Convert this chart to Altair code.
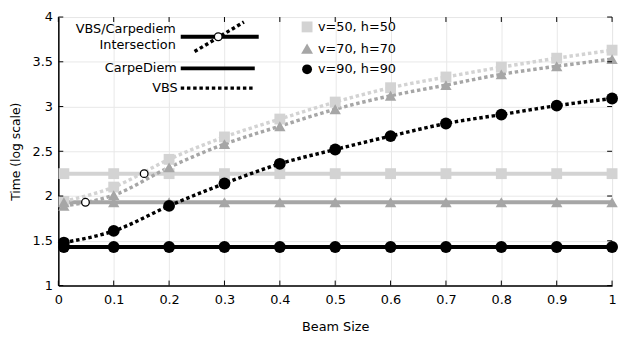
import altair as alt
import pandas as pd

# ---------------- data ----------------
beam = [0.01, 0.1, 0.2, 0.3, 0.4, 0.5, 0.6, 0.7, 0.8, 0.9, 1.0]
series = ["v=50, h=50", "v=70, h=70", "v=90, h=90"]
vbs_50 = [1.94, 2.10, 2.41, 2.66, 2.86, 3.05, 3.21, 3.33, 3.44, 3.54, 3.63]
vbs_70 = [1.89, 2.01, 2.32, 2.58, 2.78, 2.97, 3.12, 3.24, 3.36, 3.45, 3.53]
vbs_90 = [1.48, 1.61, 1.89, 2.14, 2.36, 2.52, 2.67, 2.81, 2.91, 3.01, 3.09]
carpediem = [2.25, 1.93, 1.43]
inter_x = [0.049, 0.155]
inter_y = [1.93, 2.25]
x_ticks = [0, 0.1, 0.2, 0.3, 0.4, 0.5, 0.6, 0.7, 0.8, 0.9, 1.0]
y_ticks = [1, 1.5, 2, 2.5, 3, 3.5, 4]
legend_style = ["VBS/Carpediem", "Intersection", "CarpeDiem", "VBS"]

colors = ["#d3d3d3", "#a6a6a6", "#000000"]
shapes = ["square", "triangle-up", "circle"]
sizes = [121, 144, 100]

W, H = 561, 272
FONT = "DejaVu Sans"

rows_vbs, rows_cd = [], []
for k, (s, vals) in enumerate(zip(series, [vbs_50, vbs_70, vbs_90])):
    for b, v in zip(beam, vals):
        rows_vbs.append({"beam": b, "time": v, "series": s, "k": k})
        rows_cd.append({"beam": b, "time": carpediem[k], "series": s, "k": k})
df_vbs = pd.DataFrame(rows_vbs)
df_cd = pd.DataFrame(rows_cd)
df_pts = pd.concat([df_cd, df_vbs]).sort_values("k", kind="stable")
df_int = pd.DataFrame({"beam": inter_x, "time": inter_y})

xs = alt.Scale(domain=[0, 1], nice=False)
ys = alt.Scale(domain=[1, 4], nice=False, zero=False)

x_axis = alt.Axis(values=x_ticks, format="~g", tickSize=0, grid=True, gridColor="#e8e8e8",
                  domainColor="black", domainWidth=1.5, labelFont=FONT,
                  labelFontSize=13, labelColor="black", labelPadding=8,
                  labelFlush=False, title="Beam Size", titleFont=FONT,
                  titleFontSize=13, titleFontWeight="normal", titleColor="black",
                  titlePadding=15)
y_axis = alt.Axis(values=y_ticks, format="~g", tickSize=0, grid=True, gridColor="#e8e8e8",
                  domainColor="black", domainWidth=1.5, labelFont=FONT,
                  labelFontSize=13, labelColor="black", labelPadding=6,
                  labelFlush=False, title="Time (log scale)", titleFont=FONT,
                  titleFontSize=12.5, titleFontWeight="normal", titleColor="black",
                  titlePadding=10)

color = alt.Color("series:N", scale=alt.Scale(domain=series, range=colors), legend=None)
shape = alt.Shape("series:N", scale=alt.Scale(domain=series, range=shapes), legend=None)
size = alt.Size("series:N", scale=alt.Scale(domain=series, range=sizes), legend=None)

X = alt.X("beam:Q", scale=xs, axis=x_axis)
Y = alt.Y("time:Q", scale=ys, axis=y_axis)

cd_lines = alt.Chart(df_cd).mark_line(strokeWidth=4).encode(x=X, y=Y, color=color, detail="series:N")
vbs_lines = alt.Chart(df_vbs).mark_line(strokeWidth=3.5, strokeDash=[3.5, 2.8], interpolate="monotone").encode(
    x=X, y=Y, color=color, detail="series:N")
points = alt.Chart(df_pts).mark_point(filled=True, opacity=1).encode(
    x=X, y=Y, color=color, shape=shape, size=size, order=alt.Order("k:Q"))
inter = alt.Chart(df_int).mark_point(shape="circle", filled=True, fill="white", stroke="black",
                                     strokeWidth=1.3, size=60, opacity=1).encode(x=X, y=Y)

# inward ticks on all four sides
dfx = pd.DataFrame({"beam": x_ticks})
dfy = pd.DataFrame({"time": y_ticks})
tick_style = dict(color="black", strokeWidth=1)
tb = alt.Chart(dfx).mark_rule(**tick_style).encode(x=X, y=alt.value(H), y2=alt.value(H - 5))
tt = alt.Chart(dfx).mark_rule(**tick_style).encode(x=X, y=alt.value(0), y2=alt.value(5))
tl = alt.Chart(dfy).mark_rule(**tick_style).encode(y=Y, x=alt.value(0), x2=alt.value(5))
tr = alt.Chart(dfy).mark_rule(**tick_style).encode(y=Y, x=alt.value(W), x2=alt.value(W - 5))

# line-style legend (top left)
def label(text, x, y, align="right"):
    return alt.Chart(pd.DataFrame({"t": [text]})).mark_text(
        align=align, baseline="middle", font=FONT, fontSize=13, color="black").encode(
        text="t:N", x=alt.value(x), y=alt.value(y))

one = pd.DataFrame({"a": [0]})
leg = [
    label(legend_style[0], 119, 12),
    label(legend_style[1], 119, 28),
    alt.Chart(one).mark_rule(color="black", strokeWidth=4).encode(
        x=alt.value(124), x2=alt.value(203), y=alt.value(20)),
    alt.Chart(one).mark_rule(color="black", strokeWidth=3.5, strokeDash=[3.5, 2.8]).encode(
        x=alt.value(138), x2=alt.value(188), y=alt.value(35), y2=alt.value(5)),
    alt.Chart(one).mark_point(shape="circle", filled=True, fill="white", stroke="black",
                              strokeWidth=1.3, size=60, opacity=1).encode(
        x=alt.value(162), y=alt.value(20)),
    label(legend_style[2], 120, 52),
    alt.Chart(one).mark_rule(color="black", strokeWidth=4).encode(
        x=alt.value(124), x2=alt.value(199), y=alt.value(52)),
    label(legend_style[3], 121, 72),
    alt.Chart(one).mark_rule(color="black", strokeWidth=3.5, strokeDash=[3.5, 2.8]).encode(
        x=alt.value(124), x2=alt.value(199), y=alt.value(72)),
]

# marker legend (top middle)
leg_y = [10, 32, 53]
for k, s in enumerate(series):
    leg.append(alt.Chart(one).mark_point(filled=True, opacity=1, shape=shapes[k], size=sizes[k],
                                         color=colors[k]).encode(x=alt.value(252), y=alt.value(leg_y[k])))
    leg.append(label(s, 263, leg_y[k], align="left"))

chart = alt.layer(cd_lines, vbs_lines, points, inter, tb, tt, tl, tr, *leg).properties(
    width=W, height=H,
    autosize=alt.AutoSizeParams(type="none"),
    padding={"left": 51, "top": 7, "right": 6, "bottom": 50},
).configure_view(stroke="black", strokeWidth=1.5).configure(background="white")

chart.save("out.html", embed_options={"renderer": "svg", "actions": False})
